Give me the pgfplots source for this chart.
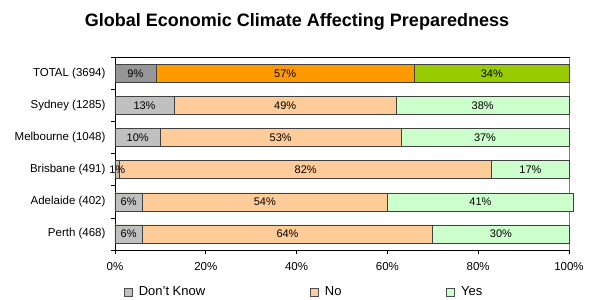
\documentclass[border=0pt]{standalone}
\usepackage{pgfplots}
\pgfplotsset{compat=1.18}
\usepackage{pgfplotstable}
\usepackage{fontspec}
\setmainfont{Liberation Sans}
\definecolor{dkL}{HTML}{C0C0C0}
\definecolor{noL}{HTML}{FFCC99}
\definecolor{yesL}{HTML}{CCFFCC}
\definecolor{dkD}{HTML}{969696}
\definecolor{noD}{HTML}{FF9900}
\definecolor{yesD}{HTML}{99CC00}
\pgfplotstableread{
idx DK No Yes
0 6 64 30
1 6 54 41
2 1 82 17
3 10 53 37
4 13 49 38
}\cities
\pgfplotstableread{
idx DK No Yes
5 9 57 34
}\total
\pgfplotsset{
  leg/.style={legend image code/.code={\draw[##1, draw=black!70, line width=0.6pt] (0pt,-4pt) rectangle (8pt,4pt);}},
  barsty/.style={xbar, bar width=18pt, bar shift=0pt, draw=black!75, line width=0.7pt},
  labsty/.style={draw=none, mark=none, forget plot, point meta=explicit,
    nodes near coords={\pgfmathprintnumber{\pgfplotspointmeta}\%},
    every node near coord/.append style={anchor=center, font=\fontsize{11}{13}\selectfont, text=black}},
}
\begin{document}
\begin{tikzpicture}
\useasboundingbox (-115pt,-50pt) rectangle (477pt,250pt);
\begin{axis}[
  scale only axis, width=454pt, height=192.5pt,
  xmin=0, xmax=100, ymin=-0.5, ymax=5.5,
  clip=false,
  axis line style={black, line width=0.8pt},
  /pgf/number format/assume math mode=true,
  xtick={0,20,40,60,80,100},
  xticklabels={0\%,20\%,40\%,60\%,80\%,100\%},
  ytick={0,1,2,3,4,5},
  yticklabels={Perth (468),Adelaide (402),Brisbane (491),Melbourne (1048),Sydney (1285),TOTAL (3694)},
  minor ytick={-0.5,0.5,1.5,2.5,3.5,4.5,5.5},
  xtick pos=bottom, ytick pos=left,
  tick align=outside,
  major tick length=4pt, minor tick length=4pt,
  major y tick style={draw=none},
  minor y tick style={black, line width=0.8pt},
  major x tick style={black, line width=0.8pt},
  tick label style={font=\fontsize{11.5}{13}\selectfont},
  xticklabel style={yshift=-5pt},
  yticklabel style={xshift=-2pt},
  reverse legend,
  legend style={at={(axis description cs:0.0198,-0.218)}, anchor=west, draw=none, fill=none,
    legend columns=3,
    /tikz/every odd column/.append style={column sep=4pt},
    /tikz/every even column/.append style={column sep=103pt},
    font=\fontsize{13}{15}\selectfont, inner sep=0pt},
]
\draw[gray, line width=0.8pt] (rel axis cs:1,0) -- (rel axis cs:1,1);
% city rows (light colours), drawn back to front
\addplot[barsty, fill=yesL, leg] table[x expr=\thisrow{DK}+\thisrow{No}+\thisrow{Yes}, y=idx]{\cities};
\addlegendentry{Yes}
\addplot[barsty, fill=noL, leg] table[x expr=\thisrow{DK}+\thisrow{No}, y=idx]{\cities};
\addlegendentry{No}
\addplot[barsty, fill=dkL, leg] table[x=DK, y=idx]{\cities};
\addlegendentry{Don't Know}
% TOTAL row (dark colours)
\addplot[barsty, fill=yesD, forget plot] table[x expr=\thisrow{DK}+\thisrow{No}+\thisrow{Yes}, y=idx]{\total};
\addplot[barsty, fill=noD, forget plot] table[x expr=\thisrow{DK}+\thisrow{No}, y=idx]{\total};
\addplot[barsty, fill=dkD, forget plot] table[x=DK, y=idx]{\total};
% labels
\addplot[labsty] table[x expr=\thisrow{DK}/2, y=idx, meta=DK]{\cities};
\addplot[labsty] table[x expr=\thisrow{DK}+\thisrow{No}/2, y=idx, meta=No]{\cities};
\addplot[labsty] table[x expr=\thisrow{DK}+\thisrow{No}+\thisrow{Yes}/2, y=idx, meta=Yes]{\cities};
\addplot[labsty] table[x expr=\thisrow{DK}/2, y=idx, meta=DK]{\total};
\addplot[labsty] table[x expr=\thisrow{DK}+\thisrow{No}/2, y=idx, meta=No]{\total};
\addplot[labsty] table[x expr=\thisrow{DK}+\thisrow{No}+\thisrow{Yes}/2, y=idx, meta=Yes]{\total};
\end{axis}
\node[anchor=base, font=\fontsize{18}{21}\selectfont\bfseries] at (182pt,223.5pt) {Global Economic Climate Affecting Preparedness};
\end{tikzpicture}
\end{document}
